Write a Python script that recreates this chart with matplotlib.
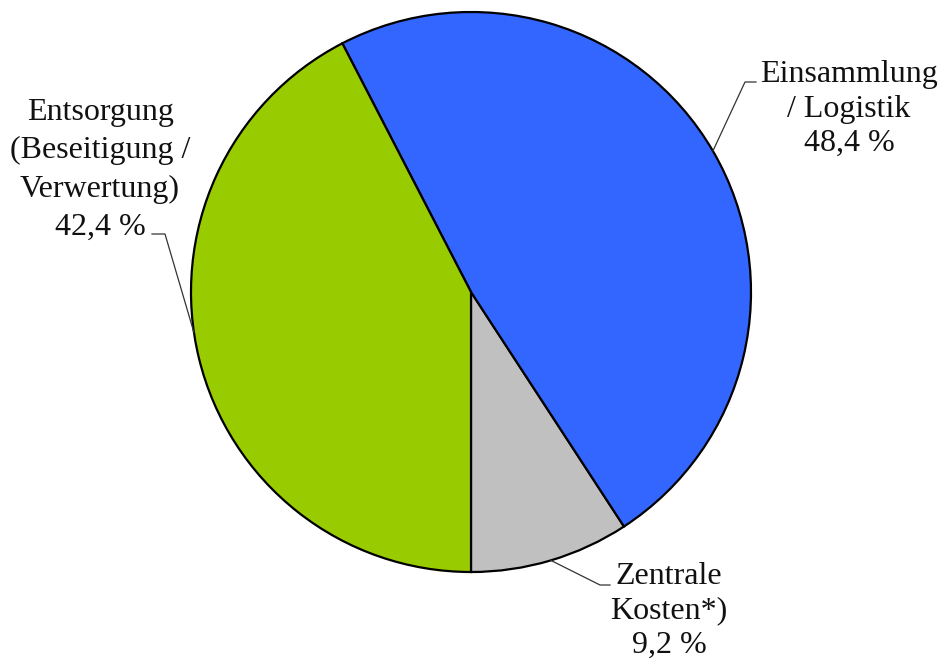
import matplotlib
matplotlib.use('Agg')
import matplotlib.pyplot as plt
import numpy as np

# Kostenanteile (in %), Reihenfolge gegen den Uhrzeigersinn ab 6 Uhr
labels = ['Zentrale\nKosten*)', 'Einsammlung\n/ Logistik', 'Entsorgung\n(Beseitigung /\nVerwertung)']
values = [9.2, 48.4, 42.4]
colors = ['#C0C0C0', '#3366FF', '#99CC00']

plt.rcParams['font.family'] = ['Liberation Serif', 'DejaVu Serif']

fig = plt.figure(figsize=(9.42, 6.64), dpi=100)
ax = fig.add_axes([0, 0, 1, 1])

cx, cy, r = 471, 372, 280
wedges, _ = ax.pie(values, colors=colors, startangle=270, counterclock=True,
                   center=(cx, cy), radius=r, frame=True,
                   wedgeprops=dict(edgecolor='black', linewidth=1.6))
ax.set_xlim(0, 942)
ax.set_ylim(0, 664)
ax.set_aspect('equal')
ax.axis('off')

# Beschriftung: Textmitte, Knickpunkt, Endpunkt der Führungslinie, Anteil im Keil
text_pos = [(669, 53), (849, 555), (100, 494)]
elbows = [[(600, 79), (610, 79)], [(745, 582), (756, 582)], [(165, 430), (152, 430)]]
anchor_frac = [0.5, 0.5, 0.465]
spacing = [1.24, 1.24, 1.42]

for w, lab, val, tp, el, f, ls in zip(wedges, labels, values, text_pos, elbows, anchor_frac, spacing):
    ang = np.deg2rad(w.theta1 + f * (w.theta2 - w.theta1))
    x0, y0 = cx + r * np.cos(ang), cy + r * np.sin(ang)
    xs = [x0] + [p[0] for p in el]
    ys = [y0] + [p[1] for p in el]
    ax.plot(xs, ys, color='#333333', lw=0.9)
    txt = lab + '\n' + f'{val:.1f} %'.replace('.', ',')
    ax.text(tp[0], tp[1], txt, ha='center', va='center', ma='center',
            fontsize=23, linespacing=ls, color='#111111')

fig.savefig('out.png', dpi=100)
